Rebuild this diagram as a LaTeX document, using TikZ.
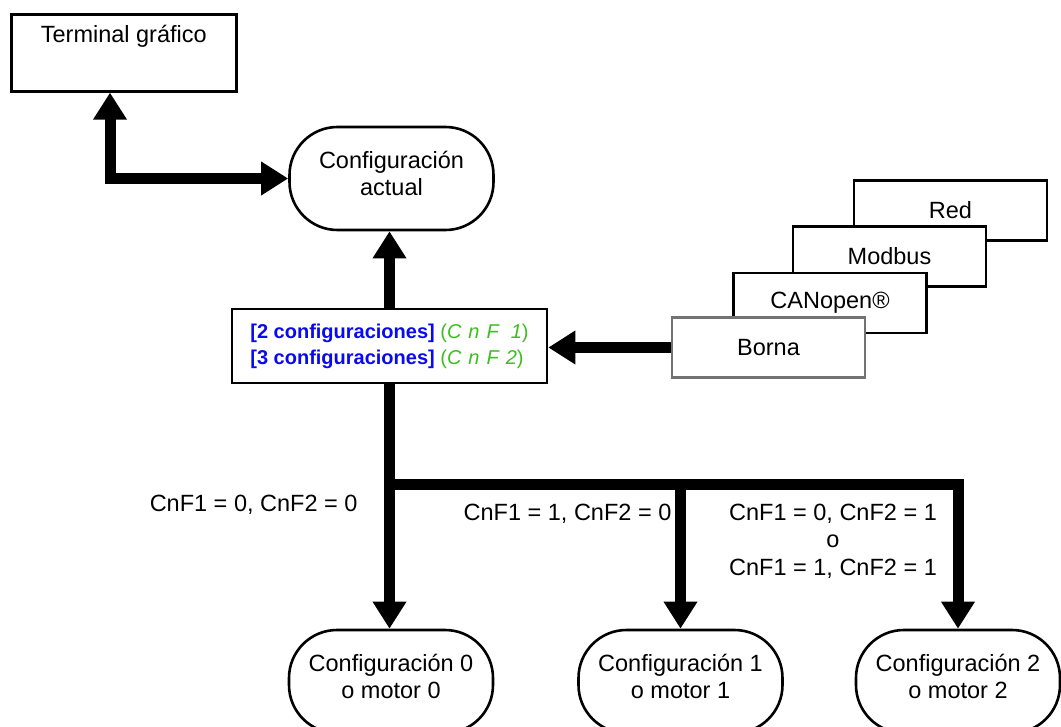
\documentclass[tikz,border=0pt]{standalone}
\usepackage{fontspec}
\setmainfont{Liberation Sans}
\usetikzlibrary{arrows.meta}
\definecolor{segGreen}{RGB}{60,190,30}
\definecolor{cfgBlue}{RGB}{10,10,240}
\definecolor{bornaGray}{RGB}{115,115,115}
\begin{document}
\begin{tikzpicture}[x=1pt,y=-1pt,
  txt/.style={font=\fontsize{23.5}{27.5}\selectfont, align=center},
  box/.style={draw, line width=2.6pt, fill=white, inner sep=0pt},
  stadium/.style={box, rounded corners=48pt, minimum width=204pt, minimum height=103pt, txt},
  netbox/.style={box, minimum width=193pt, minimum height=60pt, txt},
  fat/.style={line width=11pt},
  fatarrow/.style={-{Triangle[width=32pt,length=27pt]}},
  fatbi/.style={{Triangle[width=32pt,length=27pt]}-{Triangle[width=32pt,length=27pt]}},
]
\useasboundingbox (0,0) rectangle (1061,727);
\clip (0,0) rectangle (1061,727);

% nodes
\node[box, anchor=north west, minimum width=225pt, text height=28pt, text depth=49pt,
      font=\fontsize{23.5}{27.5}\selectfont] (term) at (10,13) {Terminal gráfico};
\node[stadium] (ca) at (391.5,178.5) {Configuración\\actual\\[-17pt]};
\node[box, minimum width=315pt, minimum height=74pt, align=left,
      font=\fontsize{20}{26}\selectfont] (cfg) at (389.5,346)
  {\textcolor{cfgBlue}{\textbf{[2 configuraciones]}} \textcolor{segGreen}{(\textit{C\kern7pt n\kern7pt F\kern12pt 1})}\\
   \textcolor{cfgBlue}{\textbf{[3 configuraciones]}} \textcolor{segGreen}{(\textit{C\kern7pt n\kern7pt F\kern7pt 2})}};

\node[netbox] (red) at (950.5,210.5) {Red};
\node[netbox] (modbus) at (889.5,256.5) {Modbus};
\node[netbox] (canopen) at (830,303) {CANopen®};
\node[netbox, draw=bornaGray] (borna) at (768.5,347.5) {Borna};

\node[stadium] (c0) at (391,681.5) {Configuración 0\\o motor 0\\[-17pt]};
\node[stadium] (c1) at (680.5,681.5) {Configuración 1\\o motor 1\\[-17pt]};
\node[stadium] (c2) at (958,681.5) {Configuración 2\\o motor 2\\[-17pt]};

% connectors
\coordinate (tc) at (110,0);
\coordinate (j) at (389.5,484);
\draw[fat, fatbi] (term.south -| tc) |- (ca.west);
\draw[fat, fatarrow] (cfg.north) -- (cfg.north |- ca.south);
\draw[fat, fatarrow] (borna.west) -- (borna.west -| cfg.east);
\draw[fat, fatarrow] (cfg.south) -- (cfg.south |- c0.north);
\draw[fat, fatarrow] (j) -| (c2.north);
\draw[fat, fatarrow] (j -| c1.north) -- (c1.north);

% labels
\node[txt, anchor=east] (l0) at (361,505) {CnF1 = 0, CnF2 = 0};
\node[txt] (l1) at (567.5,514) {CnF1 = 1, CnF2 = 0};
\node[txt] (l2) at (833,541) {CnF1 = 0, CnF2 = 1\\o\\CnF1 = 1, CnF2 = 1};
\end{tikzpicture}
\end{document}
